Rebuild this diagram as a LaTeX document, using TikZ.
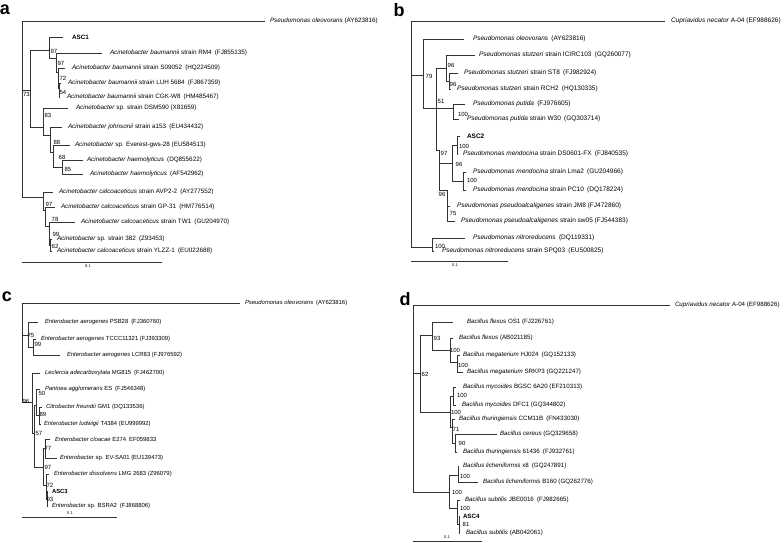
\documentclass[tikz,border=0pt]{standalone}
\usepackage{fontspec}
\setmainfont{Liberation Sans}
\newcommand\tip[6][]{\node[tipn,#1,inner xsep={#5pt-#3pt}] (#2) at (#3,#4) {#6};}
\newcommand\br[2]{\draw[tr] (#1) |- (#2);}
\newcommand\bsv[4][]{\node[bsn,#1] (#2) at (#3) {#4};}
\begin{document}
\begin{tikzpicture}[x=1pt,y=-1pt,
  tr/.style={line width=0.6pt,draw=black!80},
  tipn/.style={anchor=west,inner ysep=0.3pt,outer sep=0pt},
  fa/.style={font=\fontsize{6.3}{7}\selectfont},
  fb/.style={font=\fontsize{6.5}{7}\selectfont},
  fc/.style={font=\fontsize{5.9}{7}\selectfont},
  fd/.style={font=\fontsize{6.2}{7}\selectfont},
  bsn/.style={inner sep=0pt,font=\fontsize{6}{7}\selectfont},
  sc/.style={inner sep=0pt,font=\fontsize{4}{5}\selectfont},
  lett/.style={inner sep=0pt,font=\fontsize{18}{20}\selectfont\bfseries}]
\fill[white] (0,0) rectangle (784,543);
\useasboundingbox (0,0) rectangle (784,543);

% ================= panel a =================
\node[lett] (la) at (5,10) {a};
\coordinate (aR) at (22,100);
\coordinate (a73) at (30,90);
\coordinate (aBau) at (49,50);
\coordinate (aB) at (56,58);
\coordinate (aC) at (58,72);
\coordinate (aD) at (59,88);
\coordinate (aJo) at (43,127);
\coordinate (aJ2) at (50,135);
\coordinate (aJ3) at (53,152);
\coordinate (aH) at (62,167);
\coordinate (aCal) at (43,197);
\coordinate (aG) at (45,210);
\coordinate (aT) at (49,226);
\coordinate (aS) at (50,245);
\tip[fa]{aO}{265}{21}{270}{\textit{Pseudomonas oleovorans} (AY623816)}
\tip[fa]{aASC1}{63}{37}{72}{\textbf{ASC1}}
\tip[fa]{aRM4}{102}{53}{110}{\textit{Acinetobacter baumannii} strain RM4\enspace(FJ855135)}
\tip[fa]{aS09}{65}{68}{72}{\textit{Acinetobacter baumannii} strain S09052\enspace(HQ224509)}
\tip[fa]{aLUH}{61}{83}{68}{\textit{Acinetobacter baumannii} strain LUH 5684\enspace(FJ867359)}
\tip[fa]{aCGK}{60}{97}{67}{\textit{Acinetobacter baumannii} strain CGK-W8\enspace(HM485467)}
\tip[fa]{aDSM}{68}{108}{76}{\textit{Acinetobacter} sp. strain DSM590 (X81659)}
\tip[fa]{aJoh}{62}{127}{68}{\textit{Acinetobacter johnsonii} strain a153\enspace(EU434432)}
\tip[fa]{aEve}{70}{145}{75}{\textit{Acinetobacter} sp. Everest-gws-28 (EU584513)}
\tip[fa]{aH1}{83}{160}{87}{\textit{Acinetobacter haemolyticus}\enspace(DQ855622)}
\tip[fa]{aH2}{83}{174}{90}{\textit{Acinetobacter haemolyticus}\enspace(AF542962)}
\tip[fa]{aAVP}{53}{192}{59}{\textit{Acinetobacter calcoaceticus} strain AVP2-2\enspace(AY277552)}
\tip[fa]{aGP}{55}{207}{61}{\textit{Acinetobacter calcoaceticus} strain GP-31\enspace(HM776514)}
\tip[fa]{aTW}{75}{222}{81}{\textit{Acinetobacter calcoaceticus} strain TW1\enspace(GU204970)}
\tip[fa]{a382}{52}{239}{57}{\textit{Acinetobacter} sp. strain 382\enspace(Z93453)}
\tip[fa]{aYL}{52}{251}{57}{\textit{Acinetobacter calcoaceticus} strain YLZZ-1\enspace(EU022688)}
\br{aR}{aO.west} \br{aR}{a73} \br{aR}{aCal}
\br{a73}{aBau} \br{a73}{aJo}
\br{aBau}{aASC1.west} \br{aBau}{aB}
\br{aB}{aRM4.west} \br{aB}{aC}
\br{aC}{aS09.west} \br{aC}{aD}
\br{aD}{aLUH.west} \br{aD}{aCGK.west}
\br{aJo}{aDSM.west} \br{aJo}{aJ2}
\br{aJ2}{aJoh.west} \br{aJ2}{aJ3}
\br{aJ3}{aEve.west} \br{aJ3}{aH}
\br{aH}{aH1.west} \br{aH}{aH2.west}
\br{aCal}{aAVP.west} \br{aCal}{aG}
\br{aG}{aGP.west} \br{aG}{aT}
\br{aT}{aTW.west} \br{aT}{aS}
\br{aS}{a382.west} \br{aS}{aYL.west}
\bsv{ab1}{26.5,94}{73}
\bsv{ab2}{54,51}{97}
\bsv{ab3}{61,63}{97}
\bsv{ab4}{63,78}{72}
\bsv{ab5}{63,92}{54}
\bsv{ab6}{48,115}{83}
\bsv{ab7}{57,142}{88}
\bsv{ab8}{62,157}{68}
\bsv{ab9}{68,169}{85}
\bsv{ab10}{49,204}{97}
\bsv{ab11}{55,219}{78}
\bsv{ab12}{56,234}{99}
\bsv{ab13}{55,246}{62}
\coordinate (aSc1) at (22,262);
\coordinate (aSc2) at (162,262);
\draw[tr] (aSc1) -- (aSc2);
\node[sc] (aScl) at (88,266) {0.1};

% ================= panel b =================
\node[lett] (lb) at (399,10) {b};
\coordinate (bR) at (411,100);
\coordinate (b79) at (423,75);
\coordinate (bA) at (436,108);
\coordinate (bSt) at (446,68);
\coordinate (bSt2) at (449,81);
\coordinate (bPut) at (453,108);
\coordinate (bB) at (439,150);
\coordinate (bMen) at (452,163);
\coordinate (bAS) at (457,145);
\coordinate (bLP) at (463,181);
\coordinate (bPs) at (447,190);
\coordinate (bNit) at (432,247);
\tip[fb]{bO}{665}{21}{671}{\textit{Cupriavidus necator} A-04 (EF988626)}
\tip[fb]{bOle}{464}{39}{473}{\textit{Pseudomonas oleovorans}\enspace(AY623816)}
\tip[fb]{bIC}{475}{55}{479}{\textit{Pseudomonas stutzeri} strain ICIRC103\enspace(GQ260077)}
\tip[fb]{bST8}{458}{73}{464}{\textit{Pseudomonas stutzeri} strain ST8\enspace(FJ982924)}
\tip[fb]{bRCH}{451}{89}{457}{\textit{Pseudomonas stutzeri} strain RCH2\enspace(HQ130335)}
\tip[fb]{bPu1}{465}{104}{473}{\textit{Pseudomonas putida}\enspace(FJ976605)}
\tip[fb]{bPuW}{459}{119}{467}{\textit{Pseudomonas putida} strain W30\enspace(GQ303714)}
\tip[fb]{bASC2}{460}{136}{467}{\textbf{ASC2}}
\tip[fb]{bDS}{458}{154}{463}{\textit{Pseudomonas mendocina} strain DS0601-FX\enspace(FJ840535)}
\tip[fb]{bLma}{466}{172}{473}{\textit{Pseudomonas mendocina} strain Lma2\enspace(GU204966)}
\tip[fb]{bPC}{466}{190}{473}{\textit{Pseudomonas mendocina} strain PC10\enspace(DQ178224)}
\tip[fb]{bJM}{450}{206}{457}{\textit{Pseudomonas pseudoalcaligenes} strain JM8 (FJ472860)}
\tip[fb]{bSW}{455}{221}{461}{\textit{Pseudomonas pseudoalcaligenes} strain sw05 (FJ544383)}
\tip[fb]{bN1}{465}{238}{473}{\textit{Pseudomonas nitroreducens}\enspace(DQ119331)}
\tip[fb]{bN2}{434}{251}{442}{\textit{Pseudomonas nitroreducens} strain SPQ03\enspace(EU500825)}
\br{bR}{bO.west} \br{bR}{b79} \br{bR}{bNit}
\br{b79}{bOle.west} \br{b79}{bA}
\br{bA}{bSt} \br{bA}{bPut} \br{bA}{bB}
\br{bSt}{bIC.west} \br{bSt}{bSt2}
\br{bSt2}{bST8.west} \br{bSt2}{bRCH.west}
\br{bPut}{bPu1.west} \br{bPut}{bPuW.west}
\br{bB}{bMen} \br{bB}{bPs}
\br{bMen}{bAS} \br{bMen}{bLP}
\br{bAS}{bASC2.west} \br{bAS}{bDS.west}
\br{bLP}{bLma.west} \br{bLP}{bPC.west}
\br{bPs}{bJM.west} \br{bPs}{bSW.west}
\br{bNit}{bN1.west} \br{bNit}{bN2.west}
\bsv{bb1}{429,76}{79}
\bsv{bb2}{451,65}{96}
\bsv{bb3}{453,84}{96}
\bsv{bb4}{441,101}{51}
\bsv{bb5}{463,114}{100}
\bsv{bb6}{444,153}{97}
\bsv{bb7}{464,146}{100}
\bsv{bb8}{459,164}{96}
\bsv{bb9}{472,180}{100}
\bsv{bb10}{442,194}{96}
\bsv{bb11}{453,213}{75}
\bsv{bb12}{440,246}{100}
\coordinate (bSc1) at (411,261);
\coordinate (bSc2) at (508,261);
\draw[tr] (bSc1) -- (bSc2);
\node[sc] (bScl) at (455,265) {0.1};

% ================= panel c =================
\node[lett] (lc) at (7,297) {c};
\coordinate (cR) at (22,350);
\coordinate (cAer) at (28,335);
\coordinate (cAer2) at (33,347);
\coordinate (cBig) at (32,402);
\coordinate (cX) at (34,433);
\coordinate (cP1) at (36,405);
\coordinate (cP2) at (39,415);
\coordinate (cC1) at (43,467);
\coordinate (cC2) at (45,448);
\coordinate (cC3) at (46,485);
\coordinate (cC4) at (47,499);
\tip[fc]{cO}{240}{303}{245}{\textit{Pseudomonas oleovorans}\enspace(AY623816)}
\tip[fc]{cPSB}{38}{322}{45}{\textit{Enterobacter aerogenes} PSB28\enspace(FJ360760)}
\tip[fc]{cTC}{36}{339}{41}{\textit{Enterobacter aerogenes} TCCC11321 (FJ393309)}
\tip[fc]{cLCR}{60}{355}{67}{\textit{Enterobacter aerogenes} LCR83 (FJ976592)}
\tip[fc]{cLec}{40}{373}{45}{\textit{Leclercia adecarboxylata} MG815\enspace(FJ462700)}
\tip[fc]{cPan}{40}{389}{45}{\textit{Pantoea agglomerans} ES\enspace(FJ546348)}
\tip[fc]{cCit}{42}{407}{46}{\textit{Citrobacter freundii} GM1 (DQ133536)}
\tip[fc]{cLud}{41}{424}{44}{\textit{Enterobacter ludwigii} T4384 (EU999992)}
\tip[fc]{cClo}{50}{439}{55}{\textit{Enterobacter cloacae} E274\enspace EF059833}
\tip[fc]{cEV}{57}{458}{60}{\textit{Enterobacter} sp. EV-SA01 (EU139473)}
\tip[fc]{cDis}{49}{474}{54}{\textit{Enterobacter dissolvens} LMG 2683 (Z96079)}
\tip[fc]{cASC3}{48}{491}{52}{\textbf{ASC3}}
\tip[fc]{cBS}{48}{506}{52}{\textit{Enterobacter} sp. BSRA2\enspace(FJ868806)}
\br{cR}{cO.west} \br{cR}{cAer} \br{cR}{cBig}
\br{cAer}{cPSB.west} \br{cAer}{cAer2}
\br{cAer2}{cTC.west} \br{cAer2}{cLCR.west}
\br{cBig}{cLec.west} \br{cBig}{cX}
\br{cX}{cP1} \br{cX}{cC1}
\br{cP1}{cPan.west} \br{cP1}{cP2}
\br{cP2}{cCit.west} \br{cP2}{cLud.west}
\br{cC1}{cC2} \br{cC1}{cC3}
\br{cC2}{cClo.west} \br{cC2}{cEV.west}
\br{cC3}{cDis.west} \br{cC3}{cC4}
\br{cC4}{cASC3.west} \br{cC4}{cBS.west}
\bsv{cb1}{31,335}{75}
\bsv{cb2}{38,344}{99}
\bsv{cb3}{26,401}{96}
\bsv{cb4}{42,393}{50}
\bsv{cb5}{43,414}{89}
\bsv{cb6}{39,433}{57}
\bsv{cb7}{48,448}{77}
\bsv{cb8}{48,467}{97}
\bsv{cb9}{50,485}{72}
\bsv{cb10}{50,499}{93}
\coordinate (cSc1) at (22,517);
\coordinate (cSc2) at (117,517);
\draw[tr] (cSc1) -- (cSc2);
\node[sc] (cScl) at (70,513) {0.1};

% ================= panel d =================
\node[lett] (ld) at (405,299) {d};
\coordinate (dR) at (413,400);
\coordinate (d62) at (420,373);
\coordinate (dFl) at (432,335);
\coordinate (dFl2) at (450,350);
\coordinate (dMeg) at (457,362);
\coordinate (dM) at (450,412);
\coordinate (dMy) at (453,396);
\coordinate (dT) at (452,427);
\coordinate (dT2) at (455,443);
\coordinate (dLS) at (449,492);
\coordinate (dLi) at (458,475);
\coordinate (dSu) at (457,508);
\coordinate (dSu2) at (459,524);
\tip[fd]{dO}{670}{305}{675}{\textit{Cupriavidus necator} A-04 (EF988626)}
\tip[fd]{dF1}{453}{322}{467}{\textit{Bacillus flexus} OS1 (FJ226761)}
\tip[fd]{dF2}{453}{338}{459}{\textit{Bacillus flexus} (AB021185)}
\tip[fd]{dHJ}{460}{355}{463}{\textit{Bacillus megaterium} HJ024\enspace(GQ152133)}
\tip[fd]{dSR}{463}{372}{467}{\textit{Bacillus megaterium} SRKP3 (GQ221247)}
\tip[fd]{dBG}{456}{387}{463}{\textit{Bacillus mycoides} BGSC 6A20 (EF210313)}
\tip[fd]{dDF}{456}{405}{462}{\textit{Bacillus mycoides} DFC1 (GQ344802)}
\tip[fd]{dCC}{455}{419}{459}{\textit{Bacillus thuringiensis} CCM11B\enspace(FN433030)}
\tip[fd]{dCe}{497}{434}{500}{\textit{Bacillus cereus} (GQ329658)}
\tip[fd]{d61}{457}{452}{463}{\textit{Bacillus thuringiensis} 61436\enspace(FJ932761)}
\tip[fd]{dX8}{459}{466}{463}{\textit{Bacillus licheniformis} x8\enspace(GQ247891)}
\tip[fd]{dB160}{478}{482}{483}{\textit{Bacillus licheniformis} B160 (GQ262776)}
\tip[fd]{dJB}{460}{500}{465}{\textit{Bacillus subtilis} JBE0016\enspace(FJ982665)}
\tip[fd]{dASC4}{460}{516}{463}{\textbf{ASC4}}
\tip[fd]{dAB}{460}{533}{466}{\textit{Bacillus subtilis} (AB042061)}
\br{dR}{dO.west} \br{dR}{d62} \br{dR}{dLS}
\br{d62}{dFl} \br{d62}{dM}
\br{dFl}{dF1.west} \br{dFl}{dFl2}
\br{dFl2}{dF2.west} \br{dFl2}{dMeg}
\br{dMeg}{dHJ.west} \br{dMeg}{dSR.west}
\br{dM}{dMy} \br{dM}{dT}
\br{dMy}{dBG.west} \br{dMy}{dDF.west}
\br{dT}{dCC.west} \br{dT}{dT2}
\br{dT2}{dCe.west} \br{dT2}{d61.west}
\br{dLS}{dLi} \br{dLS}{dSu}
\br{dLi}{dX8.west} \br{dLi}{dB160.west}
\br{dSu}{dJB.west} \br{dSu}{dSu2}
\br{dSu2}{dASC4.west} \br{dSu2}{dAB.west}
\bsv{db1}{425,374}{62}
\bsv{db2}{437,338}{93}
\bsv{db3}{455,350}{100}
\bsv{db4}{463,365}{100}
\bsv{db5}{462,395}{100}
\bsv{db6}{456,412}{100}
\bsv{db7}{456,429}{71}
\bsv{db8}{462,443}{90}
\bsv{db9}{465,476}{100}
\bsv{db10}{457,492}{100}
\bsv{db11}{465,508}{100}
\bsv{db12}{466,524}{81}
\coordinate (dSc1) at (413,541.5);
\coordinate (dSc2) at (482,541.5);
\draw[tr] (dSc1) -- (dSc2);
\node[sc] (dScl) at (447,537) {0.1};
\end{tikzpicture}
\end{document}
